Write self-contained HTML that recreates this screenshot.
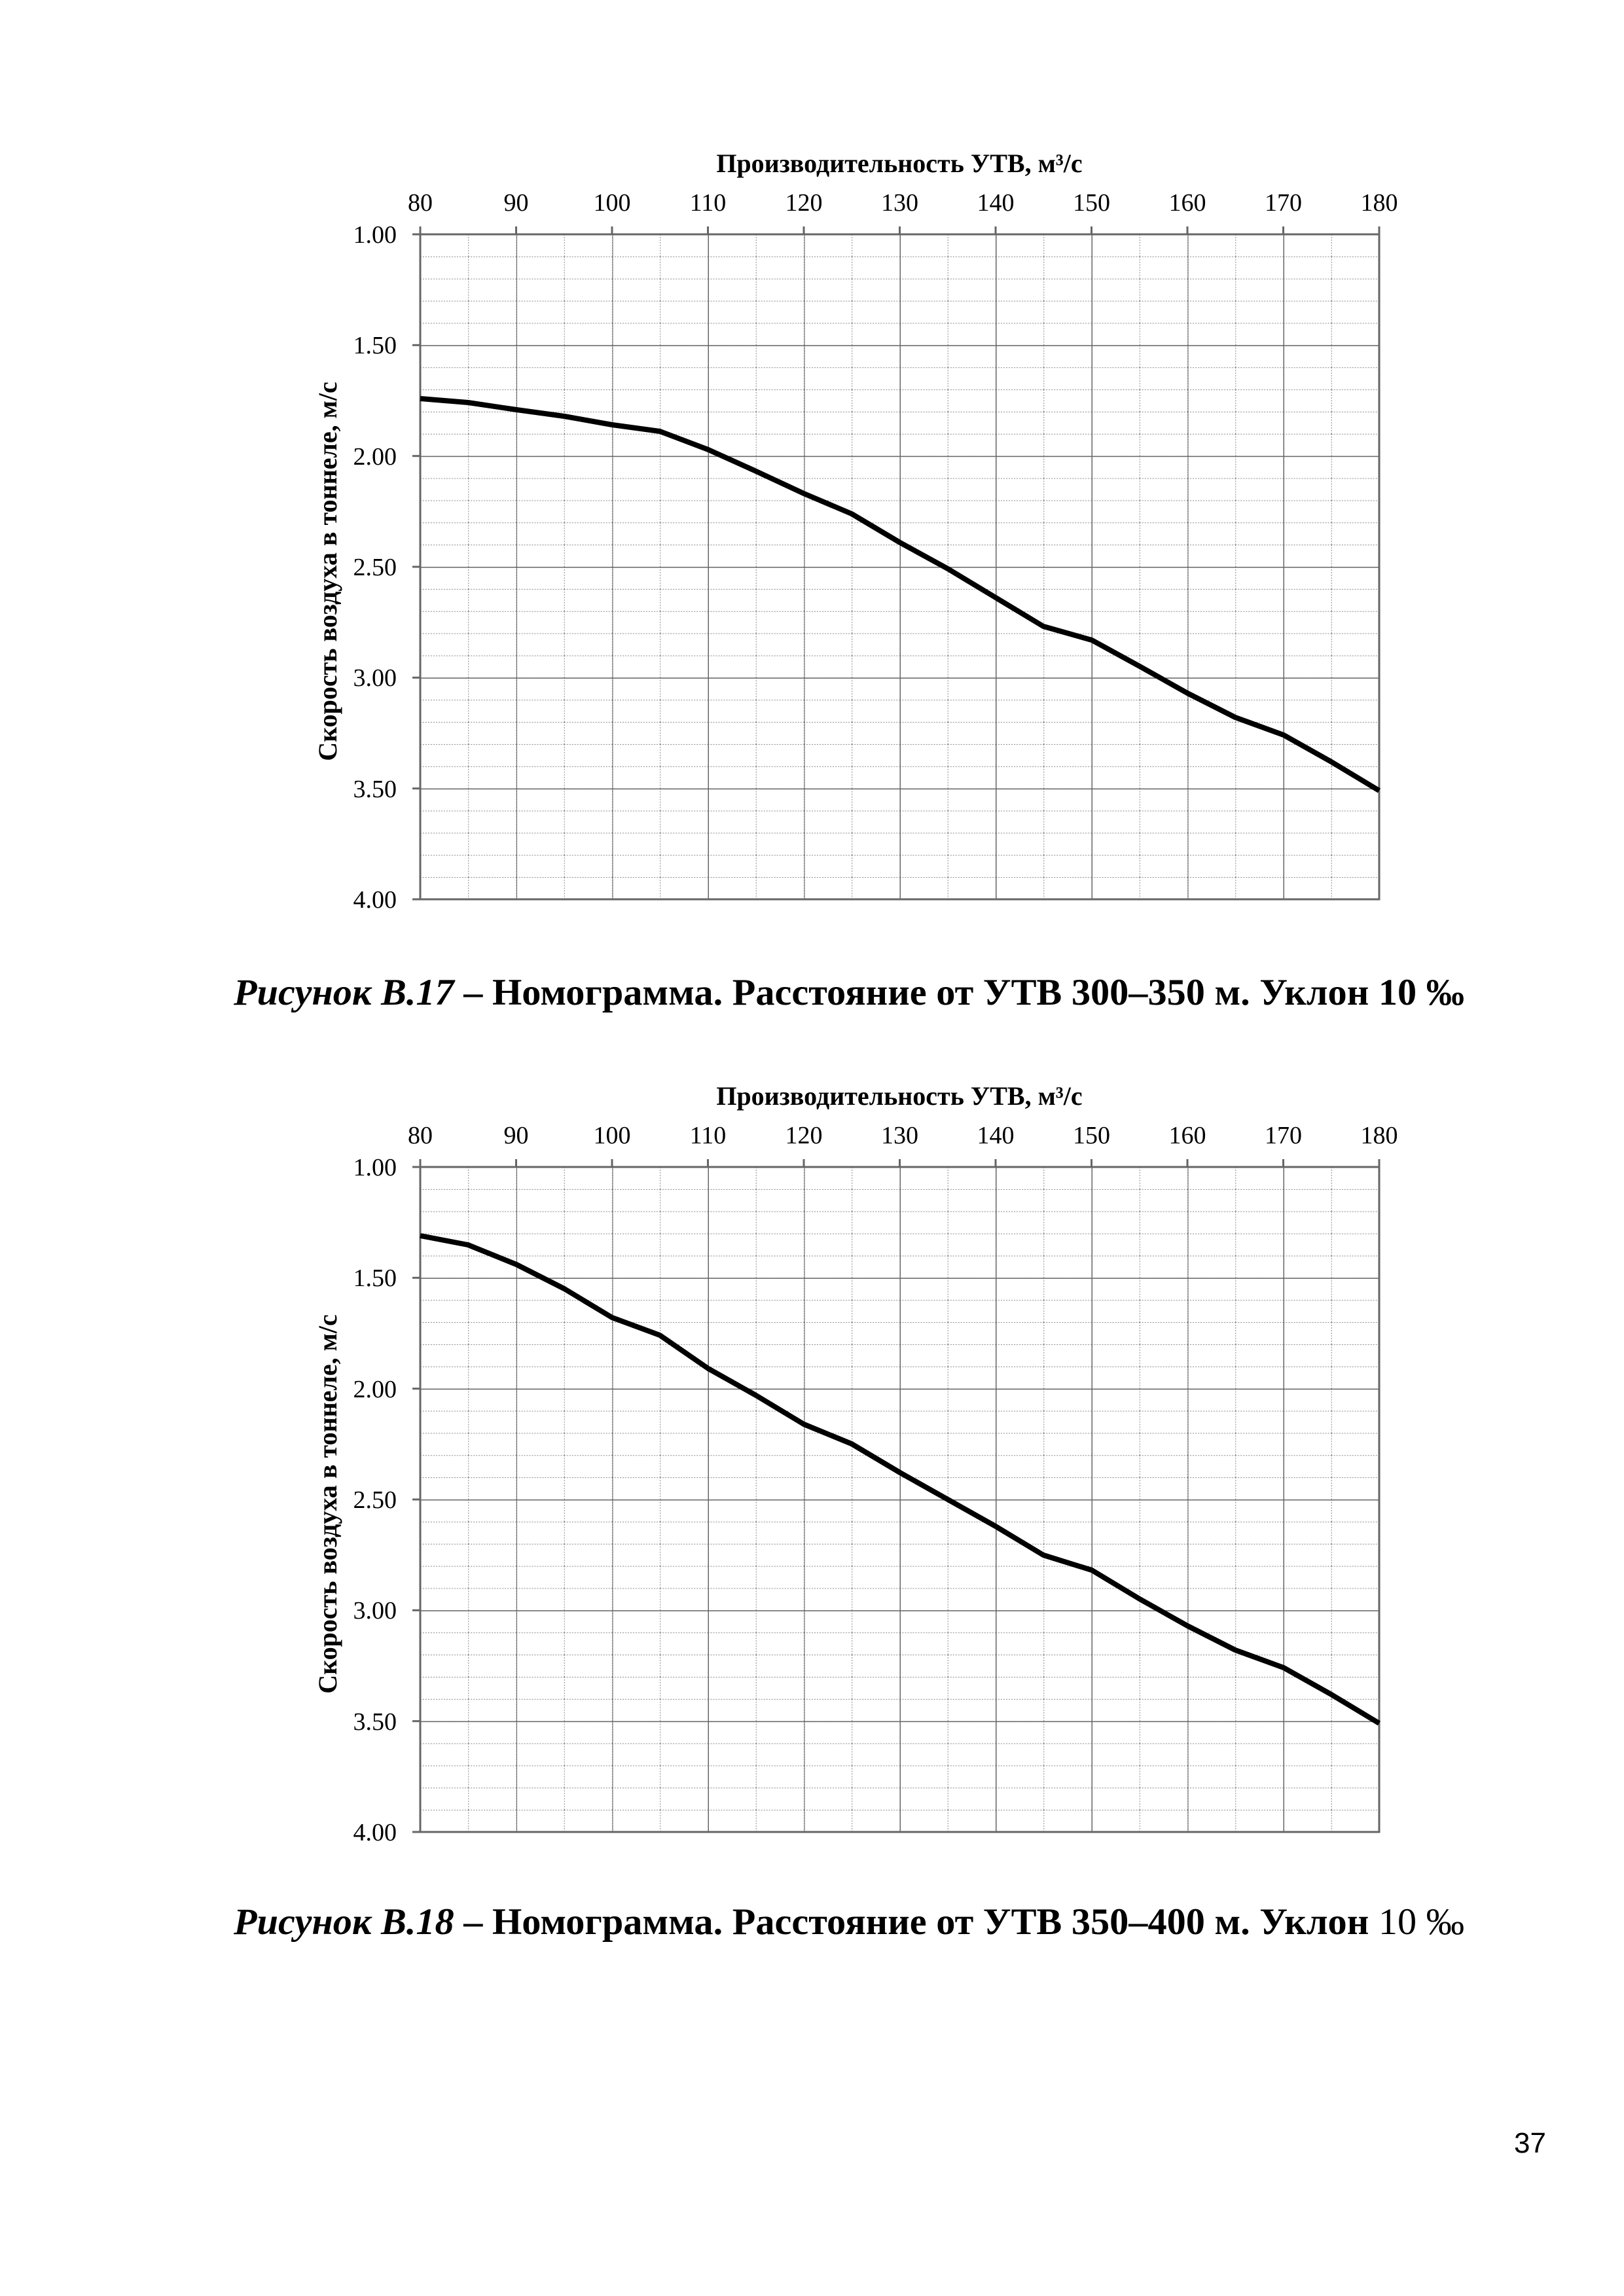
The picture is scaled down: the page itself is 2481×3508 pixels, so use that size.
<!DOCTYPE html>
<html><head><meta charset="utf-8"><style>html,body{margin:0;padding:0;background:#fff}svg{display:block}</style></head>
<body>
<svg xmlns="http://www.w3.org/2000/svg" width="2481" height="3508" viewBox="0 0 2481 3508">
<defs>
<pattern id="mn" patternUnits="userSpaceOnUse" x="642" y="358" width="73.25" height="33.867">
<line x1="0" y1="0" x2="73.25" y2="0" stroke="#888" stroke-width="2" stroke-dasharray="2,2"/>
<line x1="0" y1="0" x2="0" y2="33.867" stroke="#888" stroke-width="2" stroke-dasharray="2,2"/>
</pattern>
<pattern id="mj" patternUnits="userSpaceOnUse" x="642" y="358" width="146.5" height="169.33">
<line x1="0" y1="0" x2="146.5" y2="0" stroke="#666" stroke-width="3"/>
<line x1="0" y1="0" x2="0" y2="169.33" stroke="#666" stroke-width="3"/>
</pattern>
<g id="chart">
<rect x="642" y="358" width="1465" height="1016" fill="url(#mn)"/>
<rect x="642" y="358" width="1465" height="1016" fill="url(#mj)"/>
<rect x="642" y="358" width="1465" height="1016" fill="none" stroke="#666" stroke-width="3"/>
<g stroke="#666" stroke-width="3">
<line x1="642" y1="346" x2="642" y2="358"/><line x1="788.5" y1="346" x2="788.5" y2="358"/><line x1="935" y1="346" x2="935" y2="358"/><line x1="1081.5" y1="346" x2="1081.5" y2="358"/><line x1="1228" y1="346" x2="1228" y2="358"/><line x1="1374.5" y1="346" x2="1374.5" y2="358"/><line x1="1521" y1="346" x2="1521" y2="358"/><line x1="1667.5" y1="346" x2="1667.5" y2="358"/><line x1="1814" y1="346" x2="1814" y2="358"/><line x1="1960.5" y1="346" x2="1960.5" y2="358"/><line x1="2107" y1="346" x2="2107" y2="358"/>
<line x1="630" y1="358" x2="642" y2="358"/><line x1="630" y1="527.3" x2="642" y2="527.3"/><line x1="630" y1="696.7" x2="642" y2="696.7"/><line x1="630" y1="866" x2="642" y2="866"/><line x1="630" y1="1035.3" x2="642" y2="1035.3"/><line x1="630" y1="1204.7" x2="642" y2="1204.7"/><line x1="630" y1="1374" x2="642" y2="1374"/>
</g>
<g font-family="Liberation Serif, serif" font-size="38" fill="#000">
<text x="1374" y="263" font-weight="bold" font-size="40" text-anchor="middle">Производительность УТВ, м³/с</text>
<g text-anchor="middle">
<text x="642" y="322">80</text><text x="788.5" y="322">90</text><text x="935" y="322">100</text><text x="1081.5" y="322">110</text><text x="1228" y="322">120</text><text x="1374.5" y="322">130</text><text x="1521" y="322">140</text><text x="1667.5" y="322">150</text><text x="1814" y="322">160</text><text x="1960.5" y="322">170</text><text x="2107" y="322">180</text>
</g>
<g text-anchor="end">
<text x="606" y="371">1.00</text><text x="606" y="540">1.50</text><text x="606" y="710">2.00</text><text x="606" y="879">2.50</text><text x="606" y="1048">3.00</text><text x="606" y="1218">3.50</text><text x="606" y="1387">4.00</text>
</g>
<text transform="translate(514,873) rotate(-90)" text-anchor="middle" font-weight="bold" font-size="40">Скорость воздуха в тоннеле, м/с</text>
</g>
</g>
</defs>
<use href="#chart"/>
<polyline fill="none" stroke="#000" stroke-width="8" stroke-linejoin="round" points="642,609 715,615 789,626 862,636 935,649 1008,659 1082,687 1155,720 1228,754 1301,785 1375,829 1448,869 1521,913 1594,957 1668,978 1741,1018 1814,1059 1887,1096 1961,1123 2034,1164 2107,1208"/>
<use href="#chart" transform="translate(0,1425)"/>
<polyline fill="none" stroke="#000" stroke-width="8" stroke-linejoin="round" points="642,1888 715,1902 789,1932 862,1969 935,2013 1008,2040 1082,2091 1155,2132 1228,2176 1301,2206 1375,2250 1448,2291 1521,2332 1594,2376 1668,2399 1741,2443 1814,2484 1887,2521 1961,2548 2034,2589 2107,2633"/>
<g font-family="Liberation Serif, serif" font-size="57" font-weight="bold" fill="#000">
<text x="357" y="1535" textLength="1880" lengthAdjust="spacingAndGlyphs"><tspan font-style="italic">Рисунок В.17</tspan> – Номограмма. Расстояние от УТВ 300–350 м. Уклон 10 ‰</text>
<text x="357" y="2955" textLength="1880" lengthAdjust="spacingAndGlyphs"><tspan font-style="italic">Рисунок В.18</tspan> – Номограмма. Расстояние от УТВ 350–400 м. Уклон <tspan font-weight="normal">10 ‰</tspan></text>
</g>
<text x="2362" y="3289" font-family="Liberation Sans, sans-serif" font-size="44" text-anchor="end">37</text>
</svg>
</body></html>
